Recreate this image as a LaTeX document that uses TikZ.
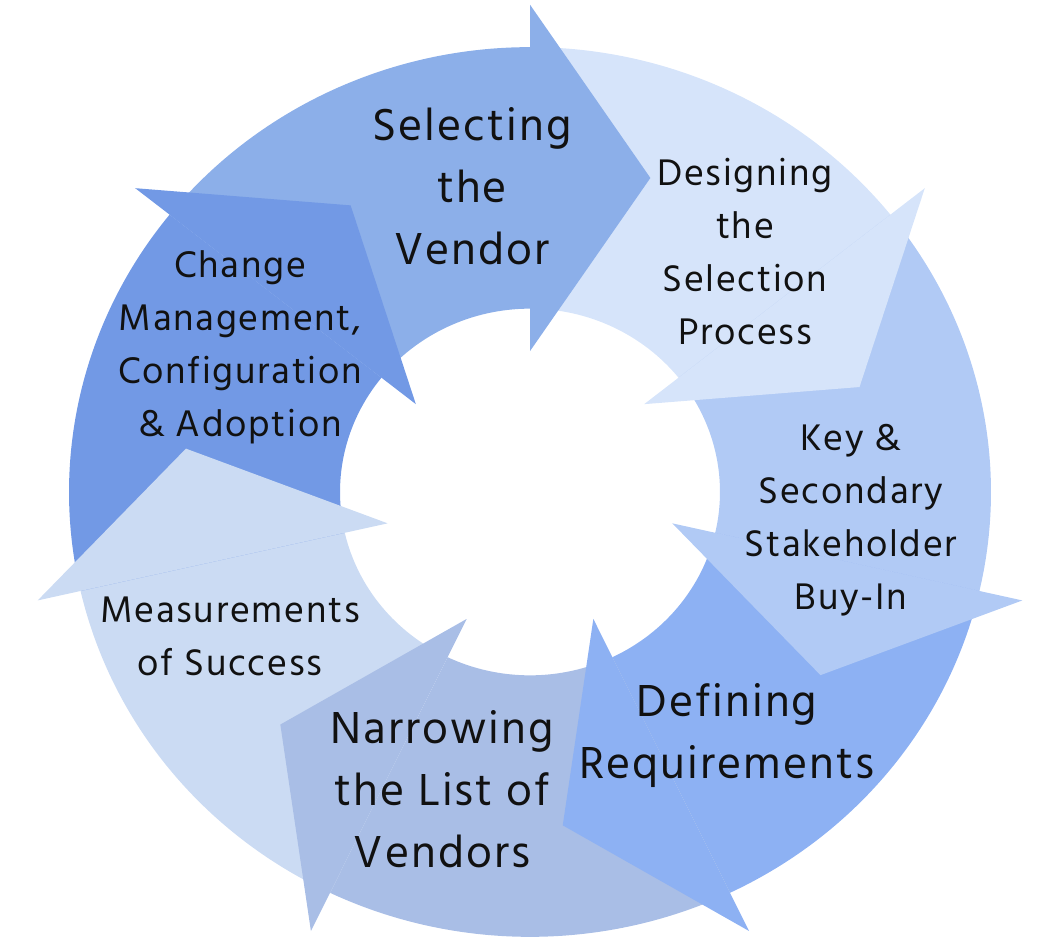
\documentclass[tikz,border=0pt]{standalone}
\usepackage{fontspec}
\setmainfont{Hind Madurai}[LetterSpace=4.5]
\definecolor{cSel}{HTML}{8CAFE9}
\definecolor{cDes}{HTML}{D6E4FA}
\definecolor{cKey}{HTML}{B1CAF5}
\definecolor{cDef}{HTML}{8DB1F3}
\definecolor{cNar}{HTML}{A9BEE6}
\definecolor{cMea}{HTML}{CBDBF3}
\definecolor{cCha}{HTML}{7299E5}
\definecolor{txt}{HTML}{111111}
\tikzset{
  lblbig/.style={font=\fontsize{46}{62}\selectfont, align=center, text=txt, inner sep=0pt},
  lblsmall/.style={font=\fontsize{38}{53}\selectfont, align=center, text=txt, inner sep=0pt},
}
\begin{document}
\begin{tikzpicture}[x=1pt,y=1pt]
\useasboundingbox (0,0) rectangle (1060,-944);
\begin{scope}[shift={(530,-492)}, yscale=0.965]
  % ring bodies
  \foreach \k/\col in {0/cSel,1/cDes,2/cKey,3/cDef,4/cNar,5/cMea,6/cCha}{
    \pgfmathsetmacro\b{90-51.4286*\k}
    \pgfmathsetmacro\s{\b+51.4286}
    \fill[\col] (\s:461) arc[start angle=\s, end angle=\b, radius=461]
      -- (\b:190) arc[start angle=\b, end angle=\s, radius=190] -- cycle;
  }
  % arrow heads
  \foreach \k/\col in {0/cSel,1/cDes,2/cKey,3/cDef,4/cNar,5/cMea,6/cCha}{
    \pgfmathsetmacro\b{90-51.4286*\k}
    \pgfmathsetmacro\t{\b-20.3}
    \fill[\col] (\b:146) -- (\b:505) -- (\t:347) -- cycle;
  }
\end{scope}
\node[lblbig]   (sel) at (472,-186) {Selecting\\the\\Vendor};
\node[lblsmall] (des) at (745,-252) {Designing\\the\\Selection\\Process};
\node[lblsmall] (key) at (851,-520) {Key \&\\Secondary\\Stakeholder\\Buy-In};
\node[lblbig]   (def) at (727,-736) {Defining\\Requirements};
\node[lblbig]   (nar) at (442,-789) {Narrowing\\the List of\\Vendors};
\node[lblsmall] (mea) at (230,-636) {Measurements\\of Success};
\node[lblsmall] (cha) at (240,-347) {Change\\Management,\\Configuration\\\& Adoption};
\end{tikzpicture}
\end{document}
